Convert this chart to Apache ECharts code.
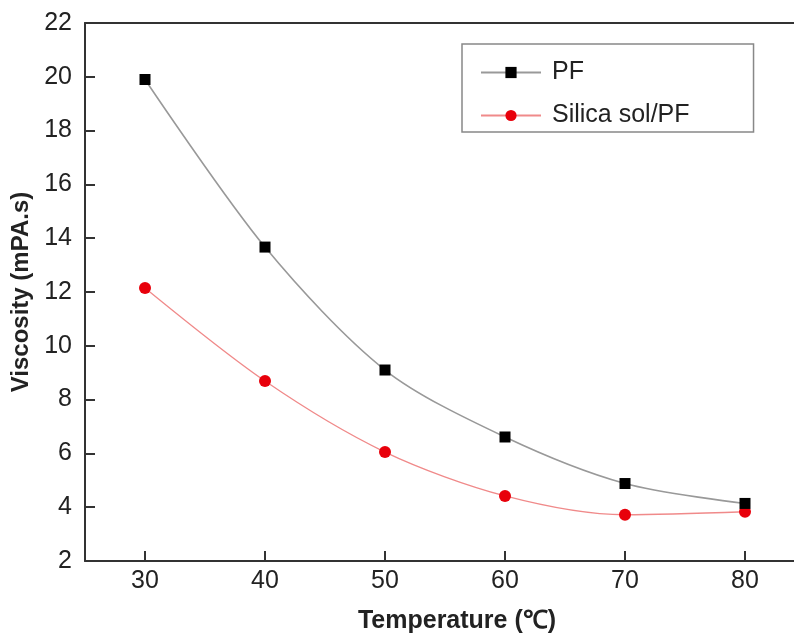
<!DOCTYPE html>
<html>
<head>
<meta charset="utf-8">
<script src="https://cdn.jsdelivr.net/npm/echarts@6/dist/echarts.min.js"></script>
<style>html,body{margin:0;padding:0;background:#fff}#c{width:794px;height:638px}</style>
</head>
<body>
<div id="c"></div>
<script>
const temperatures = [30, 40, 50, 60, 70, 80];
const pfViscosity = [19.9, 13.67, 9.1, 6.61, 4.88, 4.14];
const silicaViscosity = [12.15, 8.69, 6.05, 4.42, 3.72, 3.83];
const yTicks = [2, 22, 2];
const xRange = [25, 86];
const xTickValues = [30, 40, 50, 60, 70, 80];

const chart = echarts.init(document.getElementById('c'));
const font = 'Liberation Sans, Arial, sans-serif';
const axisColor = '#333';
chart.setOption({
  animation: false,
  backgroundColor: '#fff',
  grid: { left: 85, top: 23, width: 732, height: 538, outerBoundsMode: 'none', containLabel: false },
  legend: {
    orient: 'vertical',
    left: 462, top: 44,
    padding: [16, 64, 4, 18],
    itemGap: 18,
    itemWidth: 60, itemHeight: 14,
    borderColor: '#888', borderWidth: 1.5,
    textStyle: { fontFamily: font, fontSize: 25, color: '#222', padding: [0, 0, 0, 6] },
    data: ['PF', 'Silica sol/PF']
  },
  xAxis: [{
    type: 'value', min: xRange[0], max: xRange[1],
    axisLine: { lineStyle: { color: axisColor, width: 2 } },
    axisTick: { show: true, inside: true, length: 10, customValues: xTickValues, lineStyle: { color: axisColor, width: 2 } },
    axisLabel: { fontFamily: font, fontSize: 25, color: '#222', margin: 8, customValues: xTickValues },
    splitLine: { show: false },
    name: 'Temperature (℃)', nameLocation: 'middle', nameGap: 48,
    nameTextStyle: { fontFamily: font, fontSize: 25, fontWeight: 'bold', color: '#222', padding: [0, 0, 0, 12] }
  }, {
    type: 'value', position: 'top', min: xRange[0], max: xRange[1],
    axisLine: { show: true, lineStyle: { color: axisColor, width: 2 } },
    axisTick: { show: false }, axisLabel: { show: false }, splitLine: { show: false }
  }],
  yAxis: {
    type: 'value', min: yTicks[0], max: yTicks[1], interval: yTicks[2],
    axisLine: { show: true, lineStyle: { color: axisColor, width: 2 } },
    axisTick: { show: true, inside: true, length: 10, lineStyle: { color: axisColor, width: 2 } },
    axisLabel: { fontFamily: font, fontSize: 25, color: '#222', margin: 13 },
    splitLine: { show: false },
    name: 'Viscosity (mPA.s)', nameLocation: 'middle', nameGap: 48,
    nameTextStyle: { fontFamily: font, fontSize: 24, fontWeight: 'bold', color: '#222' }
  },
  series: [{
    name: 'PF', type: 'line', smooth: 0.3,
    data: temperatures.map((t, i) => [t, pfViscosity[i]]),
    symbol: 'rect', symbolSize: 11,
    itemStyle: { color: '#000' },
    lineStyle: { color: '#999', width: 1.6 },
    z: 3
  }, {
    name: 'Silica sol/PF', type: 'line', smooth: 0.3,
    data: temperatures.map((t, i) => [t, silicaViscosity[i]]),
    symbol: 'circle', symbolSize: 12,
    itemStyle: { color: '#e8000b' },
    lineStyle: { color: '#f08a8a', width: 1.3 },
    z: 2
  }]
});
</script>
</body>
</html>
